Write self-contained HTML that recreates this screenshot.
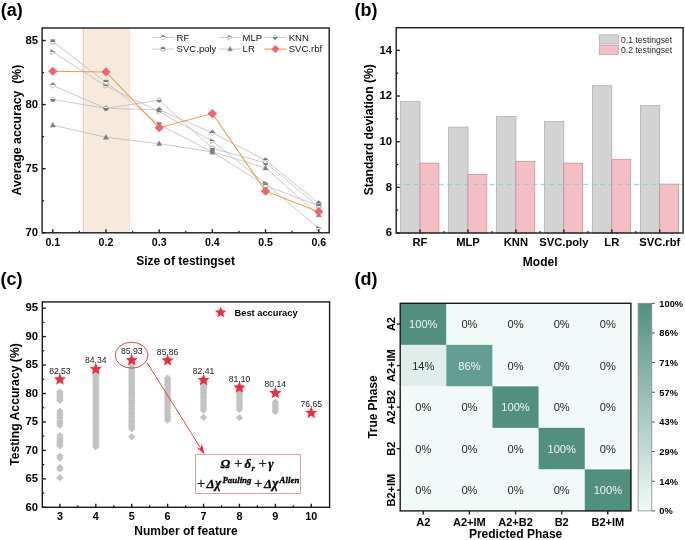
<!DOCTYPE html>
<html><head><meta charset="utf-8"><style>html,body{margin:0;padding:0;background:#fff;overflow:hidden}svg{display:block;will-change:transform}</style></head>
<body><svg width="685" height="540" viewBox="0 0 685 540" font-family="Liberation Sans, sans-serif"><defs>
<linearGradient id="half" x1="0" y1="0" x2="0" y2="1"><stop offset="0.5" stop-color="#767676"/><stop offset="0.5" stop-color="#ffffff"/></linearGradient>
<linearGradient id="halfb" x1="0" y1="0" x2="0" y2="1"><stop offset="0.5" stop-color="#ffffff"/><stop offset="0.5" stop-color="#767676"/></linearGradient>
<linearGradient id="cbar" x1="0" y1="1" x2="0" y2="0"><stop offset="0" stop-color="#f1faf9"/><stop offset="1" stop-color="#528f7f"/></linearGradient>
</defs>
<text x="0.80" y="15.80" font-size="18" font-weight="bold" text-anchor="start" fill="#000" >(a)</text>
<text x="354.50" y="15.60" font-size="18" font-weight="bold" text-anchor="start" fill="#000" >(b)</text>
<text x="0.60" y="285.30" font-size="18" font-weight="bold" text-anchor="start" fill="#000" >(c)</text>
<text x="354.50" y="285.20" font-size="18" font-weight="bold" text-anchor="start" fill="#000" >(d)</text>
<rect x="83.30" y="28.00" width="46.10" height="204.80" fill="#f6eadd" stroke="none" stroke-width="1" />
<line x1="83.30" y1="28.00" x2="83.30" y2="232.80" stroke="#e9b4b8" stroke-width="0.8" />
<line x1="129.40" y1="28.00" x2="129.40" y2="232.80" stroke="#f0ccc8" stroke-width="0.6" />
<polyline points="52.80,85.37 105.99,108.45 159.18,109.73 212.37,132.80 265.56,160.37 318.75,203.31" fill="none" stroke="#bdbdbd" stroke-width="0.8"/>
<polyline points="52.80,52.04 105.99,86.01 159.18,111.65 212.37,141.14 265.56,183.44 318.75,228.31" fill="none" stroke="#bdbdbd" stroke-width="0.8"/>
<polyline points="52.80,99.47 105.99,108.45 159.18,100.11 212.37,148.19 265.56,162.93 318.75,206.52" fill="none" stroke="#bdbdbd" stroke-width="0.8"/>
<polyline points="52.80,41.78 105.99,82.17 159.18,124.47 212.37,152.03 265.56,185.37 318.75,205.88" fill="none" stroke="#bdbdbd" stroke-width="0.8"/>
<polyline points="52.80,125.11 105.99,137.29 159.18,143.70 212.37,152.03 265.56,168.06 318.75,214.85" fill="none" stroke="#bdbdbd" stroke-width="0.8"/>
<polygon points="52.80,82.54 55.74,85.37 52.80,88.20 49.86,85.37" fill="url(#half)" stroke="#8c8c8c" stroke-width="0.6" />
<polygon points="105.99,105.61 108.93,108.45 105.99,111.28 103.05,108.45" fill="url(#half)" stroke="#8c8c8c" stroke-width="0.6" />
<polygon points="159.18,106.89 162.12,109.73 159.18,112.56 156.24,109.73" fill="url(#half)" stroke="#8c8c8c" stroke-width="0.6" />
<polygon points="212.37,129.97 215.31,132.80 212.37,135.64 209.43,132.80" fill="url(#half)" stroke="#8c8c8c" stroke-width="0.6" />
<polygon points="265.56,157.53 268.50,160.37 265.56,163.20 262.62,160.37" fill="url(#half)" stroke="#8c8c8c" stroke-width="0.6" />
<polygon points="318.75,200.48 321.69,203.31 318.75,206.15 315.81,203.31" fill="url(#half)" stroke="#8c8c8c" stroke-width="0.6" />
<polygon points="50.70,49.73 55.32,52.04 50.70,54.35" fill="url(#half)" stroke="#8c8c8c" stroke-width="0.6" />
<polygon points="103.89,83.70 108.51,86.01 103.89,88.32" fill="url(#half)" stroke="#8c8c8c" stroke-width="0.6" />
<polygon points="157.08,109.34 161.70,111.65 157.08,113.96" fill="url(#half)" stroke="#8c8c8c" stroke-width="0.6" />
<polygon points="210.27,138.83 214.89,141.14 210.27,143.45" fill="url(#half)" stroke="#8c8c8c" stroke-width="0.6" />
<polygon points="263.46,181.13 268.08,183.44 263.46,185.75" fill="url(#half)" stroke="#8c8c8c" stroke-width="0.6" />
<polygon points="316.65,226.00 321.27,228.31 316.65,230.62" fill="url(#half)" stroke="#8c8c8c" stroke-width="0.6" />
<circle cx="52.80" cy="99.47" r="2.21" fill="url(#halfb)" stroke="#8c8c8c" stroke-width="0.6"/>
<circle cx="105.99" cy="108.45" r="2.21" fill="url(#halfb)" stroke="#8c8c8c" stroke-width="0.6"/>
<circle cx="159.18" cy="100.11" r="2.21" fill="url(#halfb)" stroke="#8c8c8c" stroke-width="0.6"/>
<circle cx="212.37" cy="148.19" r="2.21" fill="url(#halfb)" stroke="#8c8c8c" stroke-width="0.6"/>
<circle cx="265.56" cy="162.93" r="2.21" fill="url(#halfb)" stroke="#8c8c8c" stroke-width="0.6"/>
<circle cx="318.75" cy="206.52" r="2.21" fill="url(#halfb)" stroke="#8c8c8c" stroke-width="0.6"/>
<polygon points="50.70,39.68 54.90,39.68 54.90,43.88 50.70,43.88" fill="url(#half)" stroke="#8c8c8c" stroke-width="0.6" />
<polygon points="103.89,80.07 108.09,80.07 108.09,84.27 103.89,84.27" fill="url(#half)" stroke="#8c8c8c" stroke-width="0.6" />
<polygon points="157.08,122.37 161.28,122.37 161.28,126.57 157.08,126.57" fill="url(#half)" stroke="#8c8c8c" stroke-width="0.6" />
<polygon points="210.27,149.93 214.47,149.93 214.47,154.13 210.27,154.13" fill="url(#half)" stroke="#8c8c8c" stroke-width="0.6" />
<polygon points="263.46,183.27 267.66,183.27 267.66,187.47 263.46,187.47" fill="url(#half)" stroke="#8c8c8c" stroke-width="0.6" />
<polygon points="316.65,203.78 320.85,203.78 320.85,207.98 316.65,207.98" fill="url(#half)" stroke="#8c8c8c" stroke-width="0.6" />
<polygon points="52.80,122.38 55.32,127.00 50.28,127.00" fill="#7a7a7a" stroke="#8c8c8c" stroke-width="0.6" />
<polygon points="105.99,134.56 108.51,139.18 103.47,139.18" fill="#7a7a7a" stroke="#8c8c8c" stroke-width="0.6" />
<polygon points="159.18,140.97 161.70,145.59 156.66,145.59" fill="#7a7a7a" stroke="#8c8c8c" stroke-width="0.6" />
<polygon points="212.37,149.30 214.89,153.92 209.85,153.92" fill="#7a7a7a" stroke="#8c8c8c" stroke-width="0.6" />
<polygon points="265.56,165.33 268.08,169.95 263.04,169.95" fill="#7a7a7a" stroke="#8c8c8c" stroke-width="0.6" />
<polygon points="318.75,212.12 321.27,216.74 316.23,216.74" fill="#7a7a7a" stroke="#8c8c8c" stroke-width="0.6" />
<polyline points="52.80,71.27 105.99,71.91 159.18,127.68 212.37,113.57 265.56,191.14 318.75,211.65" fill="none" stroke="#ec9a46" stroke-width="1.05"/>
<polygon points="52.80,66.67 57.40,71.27 52.80,75.87 48.20,71.27" fill="#f0626f" stroke="none" stroke-width="1" />
<polygon points="105.99,67.31 110.59,71.91 105.99,76.51 101.39,71.91" fill="#f0626f" stroke="none" stroke-width="1" />
<polygon points="159.18,123.08 163.78,127.68 159.18,132.28 154.58,127.68" fill="#f0626f" stroke="none" stroke-width="1" />
<polygon points="212.37,108.97 216.97,113.57 212.37,118.17 207.77,113.57" fill="#f0626f" stroke="none" stroke-width="1" />
<polygon points="265.56,186.54 270.16,191.14 265.56,195.74 260.96,191.14" fill="#f0626f" stroke="none" stroke-width="1" />
<polygon points="318.75,207.05 323.35,211.65 318.75,216.25 314.15,211.65" fill="#f0626f" stroke="none" stroke-width="1" />
<line x1="152.20" y1="37.40" x2="173.70" y2="37.40" stroke="#bdbdbd" stroke-width="0.8" />
<polygon points="162.95,34.84 165.61,37.40 162.95,39.96 160.29,37.40" fill="url(#half)" stroke="#8c8c8c" stroke-width="0.6" />
<line x1="219.30" y1="37.40" x2="240.80" y2="37.40" stroke="#bdbdbd" stroke-width="0.8" />
<polygon points="228.15,35.31 232.33,37.40 228.15,39.49" fill="url(#half)" stroke="#8c8c8c" stroke-width="0.6" />
<line x1="264.30" y1="37.40" x2="285.80" y2="37.40" stroke="#bdbdbd" stroke-width="0.8" />
<circle cx="275.05" cy="37.40" r="1.99" fill="url(#halfb)" stroke="#8c8c8c" stroke-width="0.6"/>
<line x1="152.20" y1="49.10" x2="173.70" y2="49.10" stroke="#bdbdbd" stroke-width="0.8" />
<polygon points="161.05,47.20 164.85,47.20 164.85,51.00 161.05,51.00" fill="url(#half)" stroke="#8c8c8c" stroke-width="0.6" />
<line x1="219.30" y1="49.10" x2="240.80" y2="49.10" stroke="#bdbdbd" stroke-width="0.8" />
<polygon points="230.05,46.63 232.33,50.81 227.77,50.81" fill="#7a7a7a" stroke="#8c8c8c" stroke-width="0.6" />
<line x1="264.30" y1="49.10" x2="286.50" y2="49.10" stroke="#ec9a46" stroke-width="1.1" />
<polygon points="275.40,45.10 279.40,49.10 275.40,53.10 271.40,49.10" fill="#f0626f" stroke="none" stroke-width="1" />
<text x="176.60" y="40.70" font-size="9.55" font-weight="normal" text-anchor="start" fill="#111" >RF</text>
<text x="242.60" y="40.70" font-size="9.55" font-weight="normal" text-anchor="start" fill="#111" >MLP</text>
<text x="288.70" y="40.70" font-size="9.55" font-weight="normal" text-anchor="start" fill="#111" >KNN</text>
<text x="176.60" y="52.40" font-size="9.55" font-weight="normal" text-anchor="start" fill="#111" >SVC.poly</text>
<text x="242.60" y="52.40" font-size="9.55" font-weight="normal" text-anchor="start" fill="#111" >LR</text>
<text x="288.70" y="52.40" font-size="9.55" font-weight="normal" text-anchor="start" fill="#111" >SVC.rbf</text>
<rect x="42.10" y="28.00" width="287.10" height="204.80" fill="none" stroke="#1a1a1a" stroke-width="1.4" />
<line x1="42.10" y1="232.80" x2="45.70" y2="232.80" stroke="#1a1a1a" stroke-width="1.35" />
<text x="38.00" y="236.00" font-size="11.3" font-weight="bold" text-anchor="end" fill="#000" >70</text>
<line x1="42.10" y1="168.70" x2="45.70" y2="168.70" stroke="#1a1a1a" stroke-width="1.35" />
<text x="38.00" y="171.90" font-size="11.3" font-weight="bold" text-anchor="end" fill="#000" >75</text>
<line x1="42.10" y1="104.60" x2="45.70" y2="104.60" stroke="#1a1a1a" stroke-width="1.35" />
<text x="38.00" y="107.80" font-size="11.3" font-weight="bold" text-anchor="end" fill="#000" >80</text>
<line x1="42.10" y1="40.50" x2="45.70" y2="40.50" stroke="#1a1a1a" stroke-width="1.35" />
<text x="38.00" y="43.70" font-size="11.3" font-weight="bold" text-anchor="end" fill="#000" >85</text>
<line x1="42.10" y1="200.75" x2="44.10" y2="200.75" stroke="#1a1a1a" stroke-width="1.2" />
<line x1="42.10" y1="136.65" x2="44.10" y2="136.65" stroke="#1a1a1a" stroke-width="1.2" />
<line x1="42.10" y1="72.55" x2="44.10" y2="72.55" stroke="#1a1a1a" stroke-width="1.2" />
<line x1="52.80" y1="232.80" x2="52.80" y2="229.20" stroke="#1a1a1a" stroke-width="1.35" />
<text x="52.80" y="246.20" font-size="10.6" font-weight="bold" text-anchor="middle" fill="#000" >0.1</text>
<line x1="105.99" y1="232.80" x2="105.99" y2="229.20" stroke="#1a1a1a" stroke-width="1.35" />
<text x="105.99" y="246.20" font-size="10.6" font-weight="bold" text-anchor="middle" fill="#000" >0.2</text>
<line x1="159.18" y1="232.80" x2="159.18" y2="229.20" stroke="#1a1a1a" stroke-width="1.35" />
<text x="159.18" y="246.20" font-size="10.6" font-weight="bold" text-anchor="middle" fill="#000" >0.3</text>
<line x1="212.37" y1="232.80" x2="212.37" y2="229.20" stroke="#1a1a1a" stroke-width="1.35" />
<text x="212.37" y="246.20" font-size="10.6" font-weight="bold" text-anchor="middle" fill="#000" >0.4</text>
<line x1="265.56" y1="232.80" x2="265.56" y2="229.20" stroke="#1a1a1a" stroke-width="1.35" />
<text x="265.56" y="246.20" font-size="10.6" font-weight="bold" text-anchor="middle" fill="#000" >0.5</text>
<line x1="318.75" y1="232.80" x2="318.75" y2="229.20" stroke="#1a1a1a" stroke-width="1.35" />
<text x="318.75" y="246.20" font-size="10.6" font-weight="bold" text-anchor="middle" fill="#000" >0.6</text>
<line x1="79.39" y1="232.80" x2="79.39" y2="230.80" stroke="#1a1a1a" stroke-width="1.2" />
<line x1="132.58" y1="232.80" x2="132.58" y2="230.80" stroke="#1a1a1a" stroke-width="1.2" />
<line x1="185.77" y1="232.80" x2="185.77" y2="230.80" stroke="#1a1a1a" stroke-width="1.2" />
<line x1="238.96" y1="232.80" x2="238.96" y2="230.80" stroke="#1a1a1a" stroke-width="1.2" />
<line x1="292.16" y1="232.80" x2="292.16" y2="230.80" stroke="#1a1a1a" stroke-width="1.2" />
<text x="185.60" y="265.30" font-size="12" font-weight="bold" text-anchor="middle" fill="#000" >Size of testingset</text>
<text x="0.00" y="0.00" font-size="12.3" font-weight="bold" text-anchor="middle" fill="#000" transform="translate(21.0,130.0) rotate(-90)">Average accuracy&#160;&#160;(%)</text>
<rect x="400.60" y="101.50" width="19.40" height="131.50" fill="#d3d3d3" stroke="#a9a9a9" stroke-width="0.7" />
<rect x="420.00" y="163.14" width="18.90" height="69.86" fill="#f3bfc4" stroke="#b89094" stroke-width="0.7" />
<rect x="448.55" y="127.07" width="19.40" height="105.93" fill="#d3d3d3" stroke="#a9a9a9" stroke-width="0.7" />
<rect x="467.95" y="174.56" width="18.90" height="58.44" fill="#f3bfc4" stroke="#b89094" stroke-width="0.7" />
<rect x="496.50" y="116.57" width="19.40" height="116.43" fill="#d3d3d3" stroke="#a9a9a9" stroke-width="0.7" />
<rect x="515.90" y="161.54" width="18.90" height="71.46" fill="#f3bfc4" stroke="#b89094" stroke-width="0.7" />
<rect x="544.45" y="121.59" width="19.40" height="111.41" fill="#d3d3d3" stroke="#a9a9a9" stroke-width="0.7" />
<rect x="563.85" y="163.14" width="18.90" height="69.86" fill="#f3bfc4" stroke="#b89094" stroke-width="0.7" />
<rect x="592.40" y="85.75" width="19.40" height="147.25" fill="#d3d3d3" stroke="#a9a9a9" stroke-width="0.7" />
<rect x="611.80" y="159.26" width="18.90" height="73.74" fill="#f3bfc4" stroke="#b89094" stroke-width="0.7" />
<rect x="640.35" y="105.61" width="19.40" height="127.39" fill="#d3d3d3" stroke="#a9a9a9" stroke-width="0.7" />
<rect x="659.75" y="184.14" width="18.90" height="48.86" fill="#f3bfc4" stroke="#b89094" stroke-width="0.7" />
<line x1="396.20" y1="184.37" x2="683.10" y2="184.37" stroke="#92cfc2" stroke-width="1.0" stroke-dasharray="5,3.5"/>
<rect x="599.30" y="34.80" width="19.00" height="9.30" fill="#d3d3d3" stroke="#a9a9a9" stroke-width="0.7" />
<rect x="599.30" y="45.60" width="19.00" height="9.00" fill="#f3bfc4" stroke="#c49a9e" stroke-width="0.7" />
<text x="621.10" y="42.60" font-size="8.6" font-weight="normal" text-anchor="start" fill="#222" >0.1 testingset</text>
<text x="621.10" y="53.40" font-size="8.6" font-weight="normal" text-anchor="start" fill="#222" >0.2 testingset</text>
<rect x="396.20" y="27.70" width="286.90" height="205.30" fill="none" stroke="#1a1a1a" stroke-width="1.4" />
<line x1="396.20" y1="233.00" x2="399.80" y2="233.00" stroke="#1a1a1a" stroke-width="1.35" />
<text x="392.00" y="236.20" font-size="11.3" font-weight="bold" text-anchor="end" fill="#000" >6</text>
<line x1="396.20" y1="187.34" x2="399.80" y2="187.34" stroke="#1a1a1a" stroke-width="1.35" />
<text x="392.00" y="190.54" font-size="11.3" font-weight="bold" text-anchor="end" fill="#000" >8</text>
<line x1="396.20" y1="141.68" x2="399.80" y2="141.68" stroke="#1a1a1a" stroke-width="1.35" />
<text x="392.00" y="144.88" font-size="11.3" font-weight="bold" text-anchor="end" fill="#000" >10</text>
<line x1="396.20" y1="96.02" x2="399.80" y2="96.02" stroke="#1a1a1a" stroke-width="1.35" />
<text x="392.00" y="99.22" font-size="11.3" font-weight="bold" text-anchor="end" fill="#000" >12</text>
<line x1="396.20" y1="50.36" x2="399.80" y2="50.36" stroke="#1a1a1a" stroke-width="1.35" />
<text x="392.00" y="53.56" font-size="11.3" font-weight="bold" text-anchor="end" fill="#000" >14</text>
<line x1="396.20" y1="210.17" x2="398.20" y2="210.17" stroke="#1a1a1a" stroke-width="1.2" />
<line x1="396.20" y1="164.51" x2="398.20" y2="164.51" stroke="#1a1a1a" stroke-width="1.2" />
<line x1="396.20" y1="118.85" x2="398.20" y2="118.85" stroke="#1a1a1a" stroke-width="1.2" />
<line x1="396.20" y1="73.19" x2="398.20" y2="73.19" stroke="#1a1a1a" stroke-width="1.2" />
<line x1="420.00" y1="233.00" x2="420.00" y2="229.40" stroke="#1a1a1a" stroke-width="1.35" />
<text x="420.00" y="245.80" font-size="11.2" font-weight="bold" text-anchor="middle" fill="#000" >RF</text>
<line x1="467.95" y1="233.00" x2="467.95" y2="229.40" stroke="#1a1a1a" stroke-width="1.35" />
<text x="467.95" y="245.80" font-size="11.2" font-weight="bold" text-anchor="middle" fill="#000" >MLP</text>
<line x1="515.90" y1="233.00" x2="515.90" y2="229.40" stroke="#1a1a1a" stroke-width="1.35" />
<text x="515.90" y="245.80" font-size="11.2" font-weight="bold" text-anchor="middle" fill="#000" >KNN</text>
<line x1="563.85" y1="233.00" x2="563.85" y2="229.40" stroke="#1a1a1a" stroke-width="1.35" />
<text x="563.85" y="245.80" font-size="11.2" font-weight="bold" text-anchor="middle" fill="#000" >SVC.poly</text>
<line x1="611.80" y1="233.00" x2="611.80" y2="229.40" stroke="#1a1a1a" stroke-width="1.35" />
<text x="611.80" y="245.80" font-size="11.2" font-weight="bold" text-anchor="middle" fill="#000" >LR</text>
<line x1="659.75" y1="233.00" x2="659.75" y2="229.40" stroke="#1a1a1a" stroke-width="1.35" />
<text x="659.75" y="245.80" font-size="11.2" font-weight="bold" text-anchor="middle" fill="#000" >SVC.rbf</text>
<line x1="443.98" y1="233.00" x2="443.98" y2="231.00" stroke="#1a1a1a" stroke-width="1.2" />
<line x1="491.92" y1="233.00" x2="491.92" y2="231.00" stroke="#1a1a1a" stroke-width="1.2" />
<line x1="539.88" y1="233.00" x2="539.88" y2="231.00" stroke="#1a1a1a" stroke-width="1.2" />
<line x1="587.83" y1="233.00" x2="587.83" y2="231.00" stroke="#1a1a1a" stroke-width="1.2" />
<line x1="635.77" y1="233.00" x2="635.77" y2="231.00" stroke="#1a1a1a" stroke-width="1.2" />
<text x="540.20" y="265.60" font-size="12" font-weight="bold" text-anchor="middle" fill="#000" >Model</text>
<text x="0.00" y="0.00" font-size="12.1" font-weight="bold" text-anchor="middle" fill="#000" transform="translate(373,129.8) rotate(-90)">Standard deviation (%)</text>
<polygon points="59.90,388.19 63.60,391.79 59.90,395.39 56.20,391.79" fill="#c3c3c3" stroke="none" stroke-width="1" />
<polygon points="59.90,389.90 63.60,393.50 59.90,397.10 56.20,393.50" fill="#c3c3c3" stroke="none" stroke-width="1" />
<polygon points="59.90,391.61 63.60,395.21 59.90,398.81 56.20,395.21" fill="#c3c3c3" stroke="none" stroke-width="1" />
<polygon points="59.90,393.31 63.60,396.91 59.90,400.51 56.20,396.91" fill="#c3c3c3" stroke="none" stroke-width="1" />
<polygon points="59.90,395.02 63.60,398.62 59.90,402.22 56.20,398.62" fill="#c3c3c3" stroke="none" stroke-width="1" />
<polygon points="59.90,396.73 63.60,400.33 59.90,403.93 56.20,400.33" fill="#c3c3c3" stroke="none" stroke-width="1" />
<polygon points="59.90,407.54 63.60,411.14 59.90,414.74 56.20,411.14" fill="#c3c3c3" stroke="none" stroke-width="1" />
<polygon points="59.90,409.81 63.60,413.42 59.90,417.02 56.20,413.42" fill="#c3c3c3" stroke="none" stroke-width="1" />
<polygon points="59.90,412.09 63.60,415.69 59.90,419.29 56.20,415.69" fill="#c3c3c3" stroke="none" stroke-width="1" />
<polygon points="59.90,414.37 63.60,417.97 59.90,421.57 56.20,417.97" fill="#c3c3c3" stroke="none" stroke-width="1" />
<polygon points="59.90,417.21 63.60,420.81 59.90,424.41 56.20,420.81" fill="#c3c3c3" stroke="none" stroke-width="1" />
<polygon points="59.90,419.49 63.60,423.09 59.90,426.69 56.20,423.09" fill="#c3c3c3" stroke="none" stroke-width="1" />
<polygon points="59.90,421.76 63.60,425.36 59.90,428.96 56.20,425.36" fill="#c3c3c3" stroke="none" stroke-width="1" />
<polygon points="59.90,432.01 63.60,435.61 59.90,439.21 56.20,435.61" fill="#c3c3c3" stroke="none" stroke-width="1" />
<polygon points="59.90,434.28 63.60,437.88 59.90,441.48 56.20,437.88" fill="#c3c3c3" stroke="none" stroke-width="1" />
<polygon points="59.90,436.56 63.60,440.16 59.90,443.76 56.20,440.16" fill="#c3c3c3" stroke="none" stroke-width="1" />
<polygon points="59.90,438.26 63.60,441.87 59.90,445.47 56.20,441.87" fill="#c3c3c3" stroke="none" stroke-width="1" />
<polygon points="59.90,440.54 63.60,444.14 59.90,447.74 56.20,444.14" fill="#c3c3c3" stroke="none" stroke-width="1" />
<polygon points="59.90,442.25 63.60,445.85 59.90,449.45 56.20,445.85" fill="#c3c3c3" stroke="none" stroke-width="1" />
<polygon points="59.90,452.49 63.60,456.09 59.90,459.69 56.20,456.09" fill="#c3c3c3" stroke="none" stroke-width="1" />
<polygon points="59.90,454.77 63.60,458.37 59.90,461.97 56.20,458.37" fill="#c3c3c3" stroke="none" stroke-width="1" />
<polygon points="59.90,463.87 63.60,467.47 59.90,471.07 56.20,467.47" fill="#c3c3c3" stroke="none" stroke-width="1" />
<polygon points="59.90,465.58 63.60,469.18 59.90,472.78 56.20,469.18" fill="#c3c3c3" stroke="none" stroke-width="1" />
<polygon points="59.90,474.11 63.60,477.71 59.90,481.31 56.20,477.71" fill="#c3c3c3" stroke="none" stroke-width="1" />
<polygon points="95.81,443.10 99.51,446.70 95.81,450.30 92.11,446.70" fill="#c3c3c3" stroke="none" stroke-width="1" />
<polygon points="95.81,441.06 99.51,444.66 95.81,448.26 92.11,444.66" fill="#c3c3c3" stroke="none" stroke-width="1" />
<polygon points="95.81,439.03 99.51,442.63 95.81,446.23 92.11,442.63" fill="#c3c3c3" stroke="none" stroke-width="1" />
<polygon points="95.81,436.99 99.51,440.59 95.81,444.19 92.11,440.59" fill="#c3c3c3" stroke="none" stroke-width="1" />
<polygon points="95.81,434.95 99.51,438.55 95.81,442.15 92.11,438.55" fill="#c3c3c3" stroke="none" stroke-width="1" />
<polygon points="95.81,432.91 99.51,436.51 95.81,440.11 92.11,436.51" fill="#c3c3c3" stroke="none" stroke-width="1" />
<polygon points="95.81,430.88 99.51,434.48 95.81,438.08 92.11,434.48" fill="#c3c3c3" stroke="none" stroke-width="1" />
<polygon points="95.81,428.84 99.51,432.44 95.81,436.04 92.11,432.44" fill="#c3c3c3" stroke="none" stroke-width="1" />
<polygon points="95.81,426.80 99.51,430.40 95.81,434.00 92.11,430.40" fill="#c3c3c3" stroke="none" stroke-width="1" />
<polygon points="95.81,424.76 99.51,428.36 95.81,431.96 92.11,428.36" fill="#c3c3c3" stroke="none" stroke-width="1" />
<polygon points="95.81,422.73 99.51,426.33 95.81,429.93 92.11,426.33" fill="#c3c3c3" stroke="none" stroke-width="1" />
<polygon points="95.81,420.69 99.51,424.29 95.81,427.89 92.11,424.29" fill="#c3c3c3" stroke="none" stroke-width="1" />
<polygon points="95.81,418.65 99.51,422.25 95.81,425.85 92.11,422.25" fill="#c3c3c3" stroke="none" stroke-width="1" />
<polygon points="95.81,416.61 99.51,420.21 95.81,423.81 92.11,420.21" fill="#c3c3c3" stroke="none" stroke-width="1" />
<polygon points="95.81,414.57 99.51,418.17 95.81,421.77 92.11,418.17" fill="#c3c3c3" stroke="none" stroke-width="1" />
<polygon points="95.81,412.54 99.51,416.14 95.81,419.74 92.11,416.14" fill="#c3c3c3" stroke="none" stroke-width="1" />
<polygon points="95.81,410.50 99.51,414.10 95.81,417.70 92.11,414.10" fill="#c3c3c3" stroke="none" stroke-width="1" />
<polygon points="95.81,408.46 99.51,412.06 95.81,415.66 92.11,412.06" fill="#c3c3c3" stroke="none" stroke-width="1" />
<polygon points="95.81,406.42 99.51,410.02 95.81,413.62 92.11,410.02" fill="#c3c3c3" stroke="none" stroke-width="1" />
<polygon points="95.81,404.39 99.51,407.99 95.81,411.59 92.11,407.99" fill="#c3c3c3" stroke="none" stroke-width="1" />
<polygon points="95.81,402.35 99.51,405.95 95.81,409.55 92.11,405.95" fill="#c3c3c3" stroke="none" stroke-width="1" />
<polygon points="95.81,400.31 99.51,403.91 95.81,407.51 92.11,403.91" fill="#c3c3c3" stroke="none" stroke-width="1" />
<polygon points="95.81,398.27 99.51,401.87 95.81,405.47 92.11,401.87" fill="#c3c3c3" stroke="none" stroke-width="1" />
<polygon points="95.81,396.24 99.51,399.84 95.81,403.44 92.11,399.84" fill="#c3c3c3" stroke="none" stroke-width="1" />
<polygon points="95.81,394.20 99.51,397.80 95.81,401.40 92.11,397.80" fill="#c3c3c3" stroke="none" stroke-width="1" />
<polygon points="95.81,392.16 99.51,395.76 95.81,399.36 92.11,395.76" fill="#c3c3c3" stroke="none" stroke-width="1" />
<polygon points="95.81,390.12 99.51,393.72 95.81,397.32 92.11,393.72" fill="#c3c3c3" stroke="none" stroke-width="1" />
<polygon points="95.81,388.09 99.51,391.69 95.81,395.29 92.11,391.69" fill="#c3c3c3" stroke="none" stroke-width="1" />
<polygon points="95.81,386.05 99.51,389.65 95.81,393.25 92.11,389.65" fill="#c3c3c3" stroke="none" stroke-width="1" />
<polygon points="95.81,384.01 99.51,387.61 95.81,391.21 92.11,387.61" fill="#c3c3c3" stroke="none" stroke-width="1" />
<polygon points="95.81,381.97 99.51,385.57 95.81,389.17 92.11,385.57" fill="#c3c3c3" stroke="none" stroke-width="1" />
<polygon points="95.81,379.93 99.51,383.53 95.81,387.13 92.11,383.53" fill="#c3c3c3" stroke="none" stroke-width="1" />
<polygon points="95.81,377.90 99.51,381.50 95.81,385.10 92.11,381.50" fill="#c3c3c3" stroke="none" stroke-width="1" />
<polygon points="95.81,375.86 99.51,379.46 95.81,383.06 92.11,379.46" fill="#c3c3c3" stroke="none" stroke-width="1" />
<polygon points="95.81,373.82 99.51,377.42 95.81,381.02 92.11,377.42" fill="#c3c3c3" stroke="none" stroke-width="1" />
<polygon points="95.81,371.78 99.51,375.38 95.81,378.98 92.11,375.38" fill="#c3c3c3" stroke="none" stroke-width="1" />
<polygon points="95.81,369.75 99.51,373.35 95.81,376.95 92.11,373.35" fill="#c3c3c3" stroke="none" stroke-width="1" />
<polygon points="95.81,367.71 99.51,371.31 95.81,374.91 92.11,371.31" fill="#c3c3c3" stroke="none" stroke-width="1" />
<polygon points="131.72,425.18 135.42,428.78 131.72,432.38 128.02,428.78" fill="#c3c3c3" stroke="none" stroke-width="1" />
<polygon points="131.72,423.14 135.42,426.74 131.72,430.34 128.02,426.74" fill="#c3c3c3" stroke="none" stroke-width="1" />
<polygon points="131.72,421.11 135.42,424.71 131.72,428.31 128.02,424.71" fill="#c3c3c3" stroke="none" stroke-width="1" />
<polygon points="131.72,419.07 135.42,422.67 131.72,426.27 128.02,422.67" fill="#c3c3c3" stroke="none" stroke-width="1" />
<polygon points="131.72,417.04 135.42,420.64 131.72,424.24 128.02,420.64" fill="#c3c3c3" stroke="none" stroke-width="1" />
<polygon points="131.72,415.00 135.42,418.60 131.72,422.20 128.02,418.60" fill="#c3c3c3" stroke="none" stroke-width="1" />
<polygon points="131.72,412.97 135.42,416.57 131.72,420.17 128.02,416.57" fill="#c3c3c3" stroke="none" stroke-width="1" />
<polygon points="131.72,410.94 135.42,414.54 131.72,418.14 128.02,414.54" fill="#c3c3c3" stroke="none" stroke-width="1" />
<polygon points="131.72,408.90 135.42,412.50 131.72,416.10 128.02,412.50" fill="#c3c3c3" stroke="none" stroke-width="1" />
<polygon points="131.72,406.87 135.42,410.47 131.72,414.07 128.02,410.47" fill="#c3c3c3" stroke="none" stroke-width="1" />
<polygon points="131.72,404.83 135.42,408.43 131.72,412.03 128.02,408.43" fill="#c3c3c3" stroke="none" stroke-width="1" />
<polygon points="131.72,402.80 135.42,406.40 131.72,410.00 128.02,406.40" fill="#c3c3c3" stroke="none" stroke-width="1" />
<polygon points="131.72,400.76 135.42,404.36 131.72,407.96 128.02,404.36" fill="#c3c3c3" stroke="none" stroke-width="1" />
<polygon points="131.72,398.73 135.42,402.33 131.72,405.93 128.02,402.33" fill="#c3c3c3" stroke="none" stroke-width="1" />
<polygon points="131.72,396.69 135.42,400.29 131.72,403.89 128.02,400.29" fill="#c3c3c3" stroke="none" stroke-width="1" />
<polygon points="131.72,394.66 135.42,398.26 131.72,401.86 128.02,398.26" fill="#c3c3c3" stroke="none" stroke-width="1" />
<polygon points="131.72,392.62 135.42,396.22 131.72,399.82 128.02,396.22" fill="#c3c3c3" stroke="none" stroke-width="1" />
<polygon points="131.72,390.59 135.42,394.19 131.72,397.79 128.02,394.19" fill="#c3c3c3" stroke="none" stroke-width="1" />
<polygon points="131.72,388.56 135.42,392.16 131.72,395.76 128.02,392.16" fill="#c3c3c3" stroke="none" stroke-width="1" />
<polygon points="131.72,386.52 135.42,390.12 131.72,393.72 128.02,390.12" fill="#c3c3c3" stroke="none" stroke-width="1" />
<polygon points="131.72,384.49 135.42,388.09 131.72,391.69 128.02,388.09" fill="#c3c3c3" stroke="none" stroke-width="1" />
<polygon points="131.72,382.45 135.42,386.05 131.72,389.65 128.02,386.05" fill="#c3c3c3" stroke="none" stroke-width="1" />
<polygon points="131.72,380.42 135.42,384.02 131.72,387.62 128.02,384.02" fill="#c3c3c3" stroke="none" stroke-width="1" />
<polygon points="131.72,378.38 135.42,381.98 131.72,385.58 128.02,381.98" fill="#c3c3c3" stroke="none" stroke-width="1" />
<polygon points="131.72,376.35 135.42,379.95 131.72,383.55 128.02,379.95" fill="#c3c3c3" stroke="none" stroke-width="1" />
<polygon points="131.72,374.31 135.42,377.91 131.72,381.51 128.02,377.91" fill="#c3c3c3" stroke="none" stroke-width="1" />
<polygon points="131.72,372.28 135.42,375.88 131.72,379.48 128.02,375.88" fill="#c3c3c3" stroke="none" stroke-width="1" />
<polygon points="131.72,370.24 135.42,373.84 131.72,377.44 128.02,373.84" fill="#c3c3c3" stroke="none" stroke-width="1" />
<polygon points="131.72,368.21 135.42,371.81 131.72,375.41 128.02,371.81" fill="#c3c3c3" stroke="none" stroke-width="1" />
<polygon points="131.72,366.17 135.42,369.77 131.72,373.37 128.02,369.77" fill="#c3c3c3" stroke="none" stroke-width="1" />
<polygon points="131.72,364.14 135.42,367.74 131.72,371.34 128.02,367.74" fill="#c3c3c3" stroke="none" stroke-width="1" />
<polygon points="131.72,362.11 135.42,365.71 131.72,369.31 128.02,365.71" fill="#c3c3c3" stroke="none" stroke-width="1" />
<polygon points="131.72,360.07 135.42,363.67 131.72,367.27 128.02,363.67" fill="#c3c3c3" stroke="none" stroke-width="1" />
<polygon points="131.72,358.04 135.42,361.64 131.72,365.24 128.02,361.64" fill="#c3c3c3" stroke="none" stroke-width="1" />
<polygon points="131.72,433.14 135.42,436.74 131.72,440.34 128.02,436.74" fill="#c3c3c3" stroke="none" stroke-width="1" />
<polygon points="167.63,416.64 171.33,420.24 167.63,423.84 163.93,420.24" fill="#c3c3c3" stroke="none" stroke-width="1" />
<polygon points="167.63,414.64 171.33,418.24 167.63,421.84 163.93,418.24" fill="#c3c3c3" stroke="none" stroke-width="1" />
<polygon points="167.63,412.63 171.33,416.23 167.63,419.83 163.93,416.23" fill="#c3c3c3" stroke="none" stroke-width="1" />
<polygon points="167.63,410.63 171.33,414.23 167.63,417.83 163.93,414.23" fill="#c3c3c3" stroke="none" stroke-width="1" />
<polygon points="167.63,408.62 171.33,412.22 167.63,415.82 163.93,412.22" fill="#c3c3c3" stroke="none" stroke-width="1" />
<polygon points="167.63,406.62 171.33,410.22 167.63,413.82 163.93,410.22" fill="#c3c3c3" stroke="none" stroke-width="1" />
<polygon points="167.63,404.61 171.33,408.21 167.63,411.81 163.93,408.21" fill="#c3c3c3" stroke="none" stroke-width="1" />
<polygon points="167.63,402.61 171.33,406.21 167.63,409.81 163.93,406.21" fill="#c3c3c3" stroke="none" stroke-width="1" />
<polygon points="167.63,400.60 171.33,404.20 167.63,407.80 163.93,404.20" fill="#c3c3c3" stroke="none" stroke-width="1" />
<polygon points="167.63,398.60 171.33,402.20 167.63,405.80 163.93,402.20" fill="#c3c3c3" stroke="none" stroke-width="1" />
<polygon points="167.63,396.59 171.33,400.19 167.63,403.79 163.93,400.19" fill="#c3c3c3" stroke="none" stroke-width="1" />
<polygon points="167.63,394.59 171.33,398.19 167.63,401.79 163.93,398.19" fill="#c3c3c3" stroke="none" stroke-width="1" />
<polygon points="167.63,392.58 171.33,396.18 167.63,399.78 163.93,396.18" fill="#c3c3c3" stroke="none" stroke-width="1" />
<polygon points="167.63,390.58 171.33,394.18 167.63,397.78 163.93,394.18" fill="#c3c3c3" stroke="none" stroke-width="1" />
<polygon points="167.63,388.57 171.33,392.17 167.63,395.77 163.93,392.17" fill="#c3c3c3" stroke="none" stroke-width="1" />
<polygon points="167.63,386.57 171.33,390.17 167.63,393.77 163.93,390.17" fill="#c3c3c3" stroke="none" stroke-width="1" />
<polygon points="167.63,384.56 171.33,388.16 167.63,391.76 163.93,388.16" fill="#c3c3c3" stroke="none" stroke-width="1" />
<polygon points="167.63,382.56 171.33,386.16 167.63,389.76 163.93,386.16" fill="#c3c3c3" stroke="none" stroke-width="1" />
<polygon points="167.63,380.55 171.33,384.15 167.63,387.75 163.93,384.15" fill="#c3c3c3" stroke="none" stroke-width="1" />
<polygon points="167.63,378.55 171.33,382.15 167.63,385.75 163.93,382.15" fill="#c3c3c3" stroke="none" stroke-width="1" />
<polygon points="167.63,376.54 171.33,380.14 167.63,383.74 163.93,380.14" fill="#c3c3c3" stroke="none" stroke-width="1" />
<polygon points="167.63,374.54 171.33,378.14 167.63,381.74 163.93,378.14" fill="#c3c3c3" stroke="none" stroke-width="1" />
<polygon points="203.54,406.69 207.24,410.29 203.54,413.89 199.84,410.29" fill="#c3c3c3" stroke="none" stroke-width="1" />
<polygon points="203.54,404.67 207.24,408.27 203.54,411.87 199.84,408.27" fill="#c3c3c3" stroke="none" stroke-width="1" />
<polygon points="203.54,402.66 207.24,406.26 203.54,409.86 199.84,406.26" fill="#c3c3c3" stroke="none" stroke-width="1" />
<polygon points="203.54,400.65 207.24,404.25 203.54,407.85 199.84,404.25" fill="#c3c3c3" stroke="none" stroke-width="1" />
<polygon points="203.54,398.64 207.24,402.24 203.54,405.84 199.84,402.24" fill="#c3c3c3" stroke="none" stroke-width="1" />
<polygon points="203.54,396.63 207.24,400.23 203.54,403.83 199.84,400.23" fill="#c3c3c3" stroke="none" stroke-width="1" />
<polygon points="203.54,394.61 207.24,398.21 203.54,401.81 199.84,398.21" fill="#c3c3c3" stroke="none" stroke-width="1" />
<polygon points="203.54,392.60 207.24,396.20 203.54,399.80 199.84,396.20" fill="#c3c3c3" stroke="none" stroke-width="1" />
<polygon points="203.54,390.59 207.24,394.19 203.54,397.79 199.84,394.19" fill="#c3c3c3" stroke="none" stroke-width="1" />
<polygon points="203.54,388.58 207.24,392.18 203.54,395.78 199.84,392.18" fill="#c3c3c3" stroke="none" stroke-width="1" />
<polygon points="203.54,386.57 207.24,390.17 203.54,393.77 199.84,390.17" fill="#c3c3c3" stroke="none" stroke-width="1" />
<polygon points="203.54,384.56 207.24,388.16 203.54,391.76 199.84,388.16" fill="#c3c3c3" stroke="none" stroke-width="1" />
<polygon points="203.54,382.54 207.24,386.14 203.54,389.74 199.84,386.14" fill="#c3c3c3" stroke="none" stroke-width="1" />
<polygon points="203.54,380.53 207.24,384.13 203.54,387.73 199.84,384.13" fill="#c3c3c3" stroke="none" stroke-width="1" />
<polygon points="203.54,378.52 207.24,382.12 203.54,385.72 199.84,382.12" fill="#c3c3c3" stroke="none" stroke-width="1" />
<polygon points="203.54,413.80 207.24,417.40 203.54,421.00 199.84,417.40" fill="#c3c3c3" stroke="none" stroke-width="1" />
<polygon points="239.45,405.83 243.15,409.43 239.45,413.03 235.75,409.43" fill="#c3c3c3" stroke="none" stroke-width="1" />
<polygon points="239.45,403.68 243.15,407.28 239.45,410.88 235.75,407.28" fill="#c3c3c3" stroke="none" stroke-width="1" />
<polygon points="239.45,401.53 243.15,405.13 239.45,408.73 235.75,405.13" fill="#c3c3c3" stroke="none" stroke-width="1" />
<polygon points="239.45,399.38 243.15,402.98 239.45,406.58 235.75,402.98" fill="#c3c3c3" stroke="none" stroke-width="1" />
<polygon points="239.45,397.23 243.15,400.83 239.45,404.43 235.75,400.83" fill="#c3c3c3" stroke="none" stroke-width="1" />
<polygon points="239.45,395.08 243.15,398.68 239.45,402.28 235.75,398.68" fill="#c3c3c3" stroke="none" stroke-width="1" />
<polygon points="239.45,392.93 243.15,396.53 239.45,400.13 235.75,396.53" fill="#c3c3c3" stroke="none" stroke-width="1" />
<polygon points="239.45,390.79 243.15,394.39 239.45,397.99 235.75,394.39" fill="#c3c3c3" stroke="none" stroke-width="1" />
<polygon points="239.45,388.64 243.15,392.24 239.45,395.84 235.75,392.24" fill="#c3c3c3" stroke="none" stroke-width="1" />
<polygon points="239.45,386.49 243.15,390.09 239.45,393.69 235.75,390.09" fill="#c3c3c3" stroke="none" stroke-width="1" />
<polygon points="239.45,414.08 243.15,417.68 239.45,421.28 235.75,417.68" fill="#c3c3c3" stroke="none" stroke-width="1" />
<polygon points="275.36,408.11 279.06,411.71 275.36,415.31 271.66,411.71" fill="#c3c3c3" stroke="none" stroke-width="1" />
<polygon points="275.36,405.69 279.06,409.29 275.36,412.89 271.66,409.29" fill="#c3c3c3" stroke="none" stroke-width="1" />
<polygon points="275.36,403.27 279.06,406.87 275.36,410.47 271.66,406.87" fill="#c3c3c3" stroke="none" stroke-width="1" />
<polygon points="275.36,400.85 279.06,404.45 275.36,408.05 271.66,404.45" fill="#c3c3c3" stroke="none" stroke-width="1" />
<polygon points="275.36,398.44 279.06,402.04 275.36,405.64 271.66,402.04" fill="#c3c3c3" stroke="none" stroke-width="1" />
<polygon points="59.90,373.10 61.56,377.23 65.99,377.53 62.58,380.37 63.66,384.68 59.90,382.32 56.14,384.68 57.22,380.37 53.81,377.53 58.24,377.23" fill="#ec2c3a" stroke="none" stroke-width="1" />
<text x="59.90" y="373.50" font-size="8.6" font-weight="normal" text-anchor="middle" fill="#222" >82.53</text>
<polygon points="95.81,362.81 97.47,366.93 101.90,367.23 98.49,370.08 99.57,374.38 95.81,372.02 92.05,374.38 93.13,370.08 89.72,367.23 94.15,366.93" fill="#ec2c3a" stroke="none" stroke-width="1" />
<text x="95.81" y="363.21" font-size="8.6" font-weight="normal" text-anchor="middle" fill="#222" >84.34</text>
<polygon points="131.72,353.76 133.38,357.88 137.81,358.18 134.40,361.03 135.48,365.34 131.72,362.97 127.96,365.34 129.04,361.03 125.63,358.18 130.06,357.88" fill="#ec2c3a" stroke="none" stroke-width="1" />
<text x="131.72" y="354.16" font-size="8.6" font-weight="normal" text-anchor="middle" fill="#222" >85.93</text>
<polygon points="167.63,354.16 169.29,358.28 173.72,358.58 170.31,361.43 171.39,365.73 167.63,363.37 163.87,365.73 164.95,361.43 161.54,358.58 165.97,358.28" fill="#ec2c3a" stroke="none" stroke-width="1" />
<text x="167.63" y="354.56" font-size="8.6" font-weight="normal" text-anchor="middle" fill="#222" >85.86</text>
<polygon points="203.54,373.79 205.20,377.91 209.63,378.21 206.22,381.06 207.30,385.36 203.54,383.00 199.78,385.36 200.86,381.06 197.45,378.21 201.88,377.91" fill="#ec2c3a" stroke="none" stroke-width="1" />
<text x="203.54" y="374.19" font-size="8.6" font-weight="normal" text-anchor="middle" fill="#222" >82.41</text>
<polygon points="239.45,381.24 241.11,385.36 245.54,385.66 242.13,388.51 243.21,392.82 239.45,390.46 235.69,392.82 236.77,388.51 233.36,385.66 237.79,385.36" fill="#ec2c3a" stroke="none" stroke-width="1" />
<text x="239.45" y="381.64" font-size="8.6" font-weight="normal" text-anchor="middle" fill="#222" >81.10</text>
<polygon points="275.36,386.70 277.02,390.83 281.45,391.13 278.04,393.97 279.12,398.28 275.36,395.92 271.60,398.28 272.68,393.97 269.27,391.13 273.70,390.83" fill="#ec2c3a" stroke="none" stroke-width="1" />
<text x="275.36" y="387.10" font-size="8.6" font-weight="normal" text-anchor="middle" fill="#222" >80.14</text>
<polygon points="311.27,406.56 312.93,410.68 317.36,410.98 313.95,413.83 315.03,418.14 311.27,415.78 307.51,418.14 308.59,413.83 305.18,410.98 309.61,410.68" fill="#ec2c3a" stroke="none" stroke-width="1" />
<text x="311.27" y="406.96" font-size="8.6" font-weight="normal" text-anchor="middle" fill="#222" >76.65</text>
<ellipse cx="131.6" cy="355.2" rx="16.4" ry="13" fill="none" stroke="#e03030" stroke-width="0.9"/>
<line x1="147.00" y1="362.50" x2="201.50" y2="449.50" stroke="#ec3030" stroke-width="0.9" />
<polygon points="204.50,454.60 196.50,447.20 200.60,448.80 201.80,443.60" fill="#f02828" stroke="none" stroke-width="1" />
<rect x="195.60" y="454.30" width="104.90" height="39.20" fill="#fff" stroke="#d9868c" stroke-width="0.8" />
<text x="220.60" y="468.00" font-size="13" font-family="Liberation Serif, serif" font-style="italic" font-weight="bold" stroke="#000" stroke-width="0.3">&#937;</text>
<text x="234.00" y="468.30" font-size="15" font-family="Liberation Serif, serif" stroke="#000" stroke-width="0.15">+</text>
<text x="244.60" y="468.00" font-size="13" font-family="Liberation Serif, serif" font-style="italic" font-weight="bold" stroke="#000" stroke-width="0.3">&#948;</text>
<text x="251.60" y="471.20" font-size="8.8" font-family="Liberation Serif, serif" font-style="italic" font-weight="bold" stroke="#000" stroke-width="0.3">r</text>
<text x="258.40" y="468.30" font-size="15" font-family="Liberation Serif, serif" stroke="#000" stroke-width="0.15">+</text>
<text x="268.20" y="468.00" font-size="13" font-family="Liberation Serif, serif" font-style="italic" font-weight="bold" stroke="#000" stroke-width="0.3">&#947;</text>
<text x="196.80" y="488.30" font-size="15" font-family="Liberation Serif, serif" stroke="#000" stroke-width="0.15">+</text>
<text x="206.60" y="488.00" font-size="13" font-family="Liberation Serif, serif" font-style="italic" font-weight="bold" stroke="#000" stroke-width="0.3">&#916;</text>
<text x="215.00" y="488.00" font-size="13.6" font-family="Liberation Serif, serif" font-style="italic" font-weight="bold" stroke="#000" stroke-width="0.3">&#967;</text>
<text x="222.40" y="483.40" font-size="8.9" font-family="Liberation Serif, serif" font-style="italic" font-weight="bold" stroke="#000" stroke-width="0.3">Pauling</text>
<text x="254.00" y="488.30" font-size="15" font-family="Liberation Serif, serif" stroke="#000" stroke-width="0.15">+</text>
<text x="264.00" y="488.00" font-size="13" font-family="Liberation Serif, serif" font-style="italic" font-weight="bold" stroke="#000" stroke-width="0.3">&#916;</text>
<text x="272.20" y="488.00" font-size="13.6" font-family="Liberation Serif, serif" font-style="italic" font-weight="bold" stroke="#000" stroke-width="0.3">&#967;</text>
<text x="279.60" y="483.40" font-size="8.9" font-family="Liberation Serif, serif" font-style="italic" font-weight="bold" stroke="#000" stroke-width="0.3">Allen</text>
<polygon points="220.70,306.50 222.25,310.36 226.41,310.65 223.21,313.32 224.23,317.35 220.70,315.14 217.17,317.35 218.19,313.32 214.99,310.65 219.15,310.36" fill="#ec2c3a" stroke="none" stroke-width="1" />
<text x="234.50" y="315.70" font-size="9.3" font-weight="bold" text-anchor="start" fill="#000" >Best accuracy</text>
<rect x="42.30" y="301.90" width="287.30" height="205.40" fill="none" stroke="#1a1a1a" stroke-width="1.4" />
<line x1="42.30" y1="507.30" x2="45.90" y2="507.30" stroke="#1a1a1a" stroke-width="1.35" />
<text x="38.00" y="510.50" font-size="11.3" font-weight="bold" text-anchor="end" fill="#000" >60</text>
<line x1="42.30" y1="478.85" x2="45.90" y2="478.85" stroke="#1a1a1a" stroke-width="1.35" />
<text x="38.00" y="482.05" font-size="11.3" font-weight="bold" text-anchor="end" fill="#000" >65</text>
<line x1="42.30" y1="450.40" x2="45.90" y2="450.40" stroke="#1a1a1a" stroke-width="1.35" />
<text x="38.00" y="453.60" font-size="11.3" font-weight="bold" text-anchor="end" fill="#000" >70</text>
<line x1="42.30" y1="421.95" x2="45.90" y2="421.95" stroke="#1a1a1a" stroke-width="1.35" />
<text x="38.00" y="425.15" font-size="11.3" font-weight="bold" text-anchor="end" fill="#000" >75</text>
<line x1="42.30" y1="393.50" x2="45.90" y2="393.50" stroke="#1a1a1a" stroke-width="1.35" />
<text x="38.00" y="396.70" font-size="11.3" font-weight="bold" text-anchor="end" fill="#000" >80</text>
<line x1="42.30" y1="365.05" x2="45.90" y2="365.05" stroke="#1a1a1a" stroke-width="1.35" />
<text x="38.00" y="368.25" font-size="11.3" font-weight="bold" text-anchor="end" fill="#000" >85</text>
<line x1="42.30" y1="336.60" x2="45.90" y2="336.60" stroke="#1a1a1a" stroke-width="1.35" />
<text x="38.00" y="339.80" font-size="11.3" font-weight="bold" text-anchor="end" fill="#000" >90</text>
<line x1="42.30" y1="308.15" x2="45.90" y2="308.15" stroke="#1a1a1a" stroke-width="1.35" />
<text x="38.00" y="311.35" font-size="11.3" font-weight="bold" text-anchor="end" fill="#000" >95</text>
<line x1="42.30" y1="493.07" x2="44.30" y2="493.07" stroke="#1a1a1a" stroke-width="1.2" />
<line x1="42.30" y1="464.62" x2="44.30" y2="464.62" stroke="#1a1a1a" stroke-width="1.2" />
<line x1="42.30" y1="436.18" x2="44.30" y2="436.18" stroke="#1a1a1a" stroke-width="1.2" />
<line x1="42.30" y1="407.73" x2="44.30" y2="407.73" stroke="#1a1a1a" stroke-width="1.2" />
<line x1="42.30" y1="379.27" x2="44.30" y2="379.27" stroke="#1a1a1a" stroke-width="1.2" />
<line x1="42.30" y1="350.82" x2="44.30" y2="350.82" stroke="#1a1a1a" stroke-width="1.2" />
<line x1="42.30" y1="322.38" x2="44.30" y2="322.38" stroke="#1a1a1a" stroke-width="1.2" />
<line x1="59.90" y1="507.30" x2="59.90" y2="503.70" stroke="#1a1a1a" stroke-width="1.35" />
<text x="59.90" y="520.30" font-size="10.8" font-weight="bold" text-anchor="middle" fill="#000" >3</text>
<line x1="95.81" y1="507.30" x2="95.81" y2="503.70" stroke="#1a1a1a" stroke-width="1.35" />
<text x="95.81" y="520.30" font-size="10.8" font-weight="bold" text-anchor="middle" fill="#000" >4</text>
<line x1="131.72" y1="507.30" x2="131.72" y2="503.70" stroke="#1a1a1a" stroke-width="1.35" />
<text x="131.72" y="520.30" font-size="10.8" font-weight="bold" text-anchor="middle" fill="#000" >5</text>
<line x1="167.63" y1="507.30" x2="167.63" y2="503.70" stroke="#1a1a1a" stroke-width="1.35" />
<text x="167.63" y="520.30" font-size="10.8" font-weight="bold" text-anchor="middle" fill="#000" >6</text>
<line x1="203.54" y1="507.30" x2="203.54" y2="503.70" stroke="#1a1a1a" stroke-width="1.35" />
<text x="203.54" y="520.30" font-size="10.8" font-weight="bold" text-anchor="middle" fill="#000" >7</text>
<line x1="239.45" y1="507.30" x2="239.45" y2="503.70" stroke="#1a1a1a" stroke-width="1.35" />
<text x="239.45" y="520.30" font-size="10.8" font-weight="bold" text-anchor="middle" fill="#000" >8</text>
<line x1="275.36" y1="507.30" x2="275.36" y2="503.70" stroke="#1a1a1a" stroke-width="1.35" />
<text x="275.36" y="520.30" font-size="10.8" font-weight="bold" text-anchor="middle" fill="#000" >9</text>
<line x1="311.27" y1="507.30" x2="311.27" y2="503.70" stroke="#1a1a1a" stroke-width="1.35" />
<text x="311.27" y="520.30" font-size="10.8" font-weight="bold" text-anchor="middle" fill="#000" >10</text>
<line x1="77.85" y1="507.30" x2="77.85" y2="505.30" stroke="#1a1a1a" stroke-width="1.2" />
<line x1="113.76" y1="507.30" x2="113.76" y2="505.30" stroke="#1a1a1a" stroke-width="1.2" />
<line x1="149.67" y1="507.30" x2="149.67" y2="505.30" stroke="#1a1a1a" stroke-width="1.2" />
<line x1="185.58" y1="507.30" x2="185.58" y2="505.30" stroke="#1a1a1a" stroke-width="1.2" />
<line x1="221.49" y1="507.30" x2="221.49" y2="505.30" stroke="#1a1a1a" stroke-width="1.2" />
<line x1="257.40" y1="507.30" x2="257.40" y2="505.30" stroke="#1a1a1a" stroke-width="1.2" />
<line x1="293.31" y1="507.30" x2="293.31" y2="505.30" stroke="#1a1a1a" stroke-width="1.2" />
<text x="185.90" y="535.40" font-size="12" font-weight="bold" text-anchor="middle" fill="#000" >Number of feature</text>
<text x="0.00" y="0.00" font-size="12.2" font-weight="bold" text-anchor="middle" fill="#000" transform="translate(19.4,404.5) rotate(-90)">Testing Accuracy (%)</text>
<rect x="400.20" y="303.30" width="46.44" height="41.82" fill="#528f7f" stroke="none" stroke-width="1" />
<rect x="446.34" y="303.30" width="46.44" height="41.82" fill="#f1faf9" stroke="none" stroke-width="1" />
<rect x="492.48" y="303.30" width="46.44" height="41.82" fill="#f1faf9" stroke="none" stroke-width="1" />
<rect x="538.62" y="303.30" width="46.44" height="41.82" fill="#f1faf9" stroke="none" stroke-width="1" />
<rect x="584.76" y="303.30" width="46.44" height="41.82" fill="#f1faf9" stroke="none" stroke-width="1" />
<rect x="400.20" y="344.82" width="46.44" height="41.82" fill="#dfeeeb" stroke="none" stroke-width="1" />
<rect x="446.34" y="344.82" width="46.44" height="41.82" fill="#649d92" stroke="none" stroke-width="1" />
<rect x="492.48" y="344.82" width="46.44" height="41.82" fill="#f1faf9" stroke="none" stroke-width="1" />
<rect x="538.62" y="344.82" width="46.44" height="41.82" fill="#f1faf9" stroke="none" stroke-width="1" />
<rect x="584.76" y="344.82" width="46.44" height="41.82" fill="#f1faf9" stroke="none" stroke-width="1" />
<rect x="400.20" y="386.34" width="46.44" height="41.82" fill="#f1faf9" stroke="none" stroke-width="1" />
<rect x="446.34" y="386.34" width="46.44" height="41.82" fill="#f1faf9" stroke="none" stroke-width="1" />
<rect x="492.48" y="386.34" width="46.44" height="41.82" fill="#528f7f" stroke="none" stroke-width="1" />
<rect x="538.62" y="386.34" width="46.44" height="41.82" fill="#f1faf9" stroke="none" stroke-width="1" />
<rect x="584.76" y="386.34" width="46.44" height="41.82" fill="#f1faf9" stroke="none" stroke-width="1" />
<rect x="400.20" y="427.86" width="46.44" height="41.82" fill="#f1faf9" stroke="none" stroke-width="1" />
<rect x="446.34" y="427.86" width="46.44" height="41.82" fill="#f1faf9" stroke="none" stroke-width="1" />
<rect x="492.48" y="427.86" width="46.44" height="41.82" fill="#f1faf9" stroke="none" stroke-width="1" />
<rect x="538.62" y="427.86" width="46.44" height="41.82" fill="#528f7f" stroke="none" stroke-width="1" />
<rect x="584.76" y="427.86" width="46.44" height="41.82" fill="#f1faf9" stroke="none" stroke-width="1" />
<rect x="400.20" y="469.38" width="46.44" height="41.82" fill="#f1faf9" stroke="none" stroke-width="1" />
<rect x="446.34" y="469.38" width="46.44" height="41.82" fill="#f1faf9" stroke="none" stroke-width="1" />
<rect x="492.48" y="469.38" width="46.44" height="41.82" fill="#f1faf9" stroke="none" stroke-width="1" />
<rect x="538.62" y="469.38" width="46.44" height="41.82" fill="#f1faf9" stroke="none" stroke-width="1" />
<rect x="584.76" y="469.38" width="46.44" height="41.82" fill="#528f7f" stroke="none" stroke-width="1" />
<text x="423.27" y="328.06" font-size="11.1" font-weight="normal" text-anchor="middle" fill="#f2f2f2" >100%</text>
<text x="469.41" y="328.06" font-size="11.1" font-weight="normal" text-anchor="middle" fill="#262626" >0%</text>
<text x="515.55" y="328.06" font-size="11.1" font-weight="normal" text-anchor="middle" fill="#262626" >0%</text>
<text x="561.69" y="328.06" font-size="11.1" font-weight="normal" text-anchor="middle" fill="#262626" >0%</text>
<text x="607.83" y="328.06" font-size="11.1" font-weight="normal" text-anchor="middle" fill="#262626" >0%</text>
<text x="423.27" y="369.58" font-size="11.1" font-weight="normal" text-anchor="middle" fill="#262626" >14%</text>
<text x="469.41" y="369.58" font-size="11.1" font-weight="normal" text-anchor="middle" fill="#f2f2f2" >86%</text>
<text x="515.55" y="369.58" font-size="11.1" font-weight="normal" text-anchor="middle" fill="#262626" >0%</text>
<text x="561.69" y="369.58" font-size="11.1" font-weight="normal" text-anchor="middle" fill="#262626" >0%</text>
<text x="607.83" y="369.58" font-size="11.1" font-weight="normal" text-anchor="middle" fill="#262626" >0%</text>
<text x="423.27" y="411.10" font-size="11.1" font-weight="normal" text-anchor="middle" fill="#262626" >0%</text>
<text x="469.41" y="411.10" font-size="11.1" font-weight="normal" text-anchor="middle" fill="#262626" >0%</text>
<text x="515.55" y="411.10" font-size="11.1" font-weight="normal" text-anchor="middle" fill="#f2f2f2" >100%</text>
<text x="561.69" y="411.10" font-size="11.1" font-weight="normal" text-anchor="middle" fill="#262626" >0%</text>
<text x="607.83" y="411.10" font-size="11.1" font-weight="normal" text-anchor="middle" fill="#262626" >0%</text>
<text x="423.27" y="452.62" font-size="11.1" font-weight="normal" text-anchor="middle" fill="#262626" >0%</text>
<text x="469.41" y="452.62" font-size="11.1" font-weight="normal" text-anchor="middle" fill="#262626" >0%</text>
<text x="515.55" y="452.62" font-size="11.1" font-weight="normal" text-anchor="middle" fill="#262626" >0%</text>
<text x="561.69" y="452.62" font-size="11.1" font-weight="normal" text-anchor="middle" fill="#f2f2f2" >100%</text>
<text x="607.83" y="452.62" font-size="11.1" font-weight="normal" text-anchor="middle" fill="#262626" >0%</text>
<text x="423.27" y="494.14" font-size="11.1" font-weight="normal" text-anchor="middle" fill="#262626" >0%</text>
<text x="469.41" y="494.14" font-size="11.1" font-weight="normal" text-anchor="middle" fill="#262626" >0%</text>
<text x="515.55" y="494.14" font-size="11.1" font-weight="normal" text-anchor="middle" fill="#262626" >0%</text>
<text x="561.69" y="494.14" font-size="11.1" font-weight="normal" text-anchor="middle" fill="#262626" >0%</text>
<text x="607.83" y="494.14" font-size="11.1" font-weight="normal" text-anchor="middle" fill="#f2f2f2" >100%</text>
<rect x="400.20" y="303.30" width="230.70" height="207.60" fill="none" stroke="#1a1a1a" stroke-width="1.4" />
<line x1="423.27" y1="510.90" x2="423.27" y2="514.50" stroke="#1a1a1a" stroke-width="1.35" />
<text x="423.27" y="526.20" font-size="11" font-weight="bold" text-anchor="middle" fill="#000" >A2</text>
<line x1="469.41" y1="510.90" x2="469.41" y2="514.50" stroke="#1a1a1a" stroke-width="1.35" />
<text x="469.41" y="526.20" font-size="11" font-weight="bold" text-anchor="middle" fill="#000" >A2+IM</text>
<line x1="515.55" y1="510.90" x2="515.55" y2="514.50" stroke="#1a1a1a" stroke-width="1.35" />
<text x="515.55" y="526.20" font-size="11" font-weight="bold" text-anchor="middle" fill="#000" >A2+B2</text>
<line x1="561.69" y1="510.90" x2="561.69" y2="514.50" stroke="#1a1a1a" stroke-width="1.35" />
<text x="561.69" y="526.20" font-size="11" font-weight="bold" text-anchor="middle" fill="#000" >B2</text>
<line x1="607.83" y1="510.90" x2="607.83" y2="514.50" stroke="#1a1a1a" stroke-width="1.35" />
<text x="607.83" y="526.20" font-size="11" font-weight="bold" text-anchor="middle" fill="#000" >B2+IM</text>
<line x1="400.20" y1="324.06" x2="396.80" y2="324.06" stroke="#1a1a1a" stroke-width="1.35" />
<text x="0.00" y="0.00" font-size="11" font-weight="bold" text-anchor="middle" fill="#000" transform="translate(395.3,324.06) rotate(-90)">A2</text>
<line x1="400.20" y1="365.58" x2="396.80" y2="365.58" stroke="#1a1a1a" stroke-width="1.35" />
<text x="0.00" y="0.00" font-size="11" font-weight="bold" text-anchor="middle" fill="#000" transform="translate(395.3,365.58) rotate(-90)">A2+IM</text>
<line x1="400.20" y1="407.10" x2="396.80" y2="407.10" stroke="#1a1a1a" stroke-width="1.35" />
<text x="0.00" y="0.00" font-size="11" font-weight="bold" text-anchor="middle" fill="#000" transform="translate(395.3,407.10) rotate(-90)">A2+B2</text>
<line x1="400.20" y1="448.62" x2="396.80" y2="448.62" stroke="#1a1a1a" stroke-width="1.35" />
<text x="0.00" y="0.00" font-size="11" font-weight="bold" text-anchor="middle" fill="#000" transform="translate(395.3,448.62) rotate(-90)">B2</text>
<line x1="400.20" y1="490.14" x2="396.80" y2="490.14" stroke="#1a1a1a" stroke-width="1.35" />
<text x="0.00" y="0.00" font-size="11" font-weight="bold" text-anchor="middle" fill="#000" transform="translate(395.3,490.14) rotate(-90)">B2+IM</text>
<text x="515.60" y="538.30" font-size="12" font-weight="bold" text-anchor="middle" fill="#000" >Predicted Phase</text>
<text x="0.00" y="0.00" font-size="11.9" font-weight="bold" text-anchor="middle" fill="#000" transform="translate(376.6,407.1) rotate(-90)">True Phase</text>
<rect x="638.10" y="303.30" width="13.70" height="207.60" fill="url(#cbar)" stroke="#8a8a8a" stroke-width="0.8" />
<line x1="651.80" y1="510.90" x2="655.00" y2="510.90" stroke="#444" stroke-width="0.9" />
<text x="659.30" y="514.20" font-size="9.3" font-weight="bold" text-anchor="start" fill="#000" >0%</text>
<line x1="651.80" y1="481.24" x2="655.00" y2="481.24" stroke="#444" stroke-width="0.9" />
<text x="659.30" y="484.54" font-size="9.3" font-weight="bold" text-anchor="start" fill="#000" >14%</text>
<line x1="651.80" y1="451.59" x2="655.00" y2="451.59" stroke="#444" stroke-width="0.9" />
<text x="659.30" y="454.89" font-size="9.3" font-weight="bold" text-anchor="start" fill="#000" >29%</text>
<line x1="651.80" y1="421.93" x2="655.00" y2="421.93" stroke="#444" stroke-width="0.9" />
<text x="659.30" y="425.23" font-size="9.3" font-weight="bold" text-anchor="start" fill="#000" >43%</text>
<line x1="651.80" y1="392.27" x2="655.00" y2="392.27" stroke="#444" stroke-width="0.9" />
<text x="659.30" y="395.57" font-size="9.3" font-weight="bold" text-anchor="start" fill="#000" >57%</text>
<line x1="651.80" y1="362.61" x2="655.00" y2="362.61" stroke="#444" stroke-width="0.9" />
<text x="659.30" y="365.91" font-size="9.3" font-weight="bold" text-anchor="start" fill="#000" >71%</text>
<line x1="651.80" y1="332.96" x2="655.00" y2="332.96" stroke="#444" stroke-width="0.9" />
<text x="659.30" y="336.26" font-size="9.3" font-weight="bold" text-anchor="start" fill="#000" >86%</text>
<line x1="651.80" y1="303.30" x2="655.00" y2="303.30" stroke="#444" stroke-width="0.9" />
<text x="659.30" y="306.60" font-size="9.3" font-weight="bold" text-anchor="start" fill="#000" >100%</text>
</svg></body></html>
